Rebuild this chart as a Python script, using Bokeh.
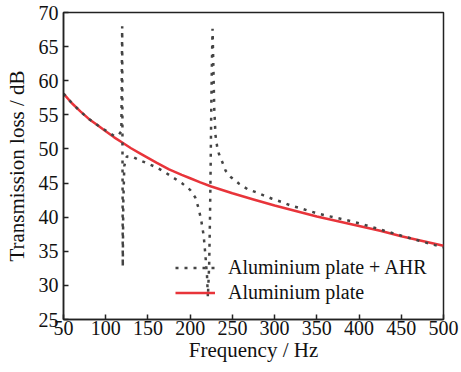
from bokeh.plotting import figure
from bokeh.models import Range1d, FixedTicker, Legend, LegendItem
from bokeh.embed import file_html
from bokeh.resources import INLINE

# Aluminium plate (red)
f_plate = [50, 60, 70, 80, 90, 100, 110, 120, 130, 140, 150, 160, 175, 190, 200, 212, 225,
           250, 275, 300, 325, 350, 375, 400, 425, 450, 475, 500]
tl_plate = [58.1, 56.7, 55.5, 54.4, 53.5, 52.6, 51.7, 50.9, 50.1, 49.4, 48.7, 48.0, 47.0, 46.2,
            45.7, 45.1, 44.5, 43.5, 42.6, 41.7, 40.9, 40.1, 39.4, 38.7, 38.0, 37.2, 36.5, 35.8]

# Aluminium plate + AHR (dotted)
f_ahr = [50, 60, 70, 80, 90, 100, 110, 115, 118.5, 119.5, 120.2, 120.8, 122, 125, 131, 141,
         151, 160, 170, 180, 190, 200, 206, 210, 213, 216, 218, 220, 221,
         222.5, 223.5, 224.3, 225, 225.8, 226.5, 227.5, 228.5, 230, 232, 234, 238, 242, 248,
         258, 268, 277, 287, 297, 309, 319, 331, 341, 352, 362, 384, 406, 430, 461, 490, 500]
tl_ahr = [58.1, 56.7, 55.5, 54.4, 53.5, 52.7, 51.9, 52.0, 52.6, 68.0, 32.7, 42.0, 47.5, 48.9,
          48.9, 48.3, 47.8, 47.3, 46.6, 45.8, 45.0, 44.0, 42.9, 41.3, 39.6, 37.3, 34.5, 31.3, 28.3,
          33.0, 40.0, 48.0, 56.0, 63.0, 67.6, 62.0, 56.0, 52.0, 50.3, 49.3, 48.1, 46.8, 45.9,
          44.9, 44.1, 43.7, 43.2, 42.7, 42.2, 41.7, 41.3, 40.9, 40.5, 40.2, 39.6, 38.9, 38.0,
          36.9, 35.9, 35.6]

x_ticks = [50, 100, 150, 200, 250, 300, 350, 400, 450, 500]
y_ticks = [25, 30, 35, 40, 45, 50, 55, 60, 65, 70]

FONT = "Liberation Serif"

p = figure(width=461, height=372, output_backend="svg", toolbar_location=None,
           x_range=Range1d(50, 500), y_range=Range1d(25, 70),
           min_border_left=63, min_border_right=18, min_border_top=12, min_border_bottom=53)

p.xgrid.visible = False
p.ygrid.visible = False
p.outline_line_color = "#222222"
p.outline_line_width = 1.5
p.background_fill_color = "white"
p.border_fill_color = "white"

for ax in (p.xaxis[0], p.yaxis[0]):
    ax.axis_line_color = "#222222"
    ax.axis_line_width = 1.5
    ax.major_tick_in = 5
    ax.major_tick_out = 0
    ax.major_tick_line_color = "#222222"
    ax.major_tick_line_width = 1.5
    ax.minor_tick_line_color = None
    ax.major_label_text_font = FONT
    ax.major_label_text_font_size = "20px"
    ax.major_label_text_color = "#111111"
    ax.axis_label_text_font = FONT
    ax.axis_label_text_font_size = "21px"
    ax.axis_label_text_font_style = "normal"
    ax.axis_label_text_color = "#111111"

p.xaxis.ticker = FixedTicker(ticks=x_ticks)
p.yaxis.ticker = FixedTicker(ticks=y_ticks)
p.xaxis.axis_label = "Frequency / Hz"
p.yaxis.axis_label = "Transmission loss / dB"
p.xaxis.major_label_standoff = 1
p.xaxis.axis_label_standoff = 0
p.yaxis.major_label_standoff = 5
p.yaxis.axis_label_standoff = 7

r_plate = p.line(f_plate, tl_plate, line_color="#e8343a", line_width=2.5)
r_ahr = p.line(f_ahr, tl_ahr, line_color="#444444", line_width=2.5, line_dash="3 6")

legend = Legend(items=[LegendItem(label="Aluminium plate + AHR", renderers=[r_ahr]),
                       LegendItem(label="Aluminium plate", renderers=[r_plate])],
                location=(112, 15), padding=0, margin=0, spacing=2,
                label_height=21, glyph_height=21, glyph_width=40, label_standoff=13,
                label_text_font=FONT, label_text_font_size="20px", label_text_color="#111111",
                background_fill_alpha=0, border_line_color=None)
p.add_layout(legend)

open("out.html", "w").write(file_html(p, INLINE))
